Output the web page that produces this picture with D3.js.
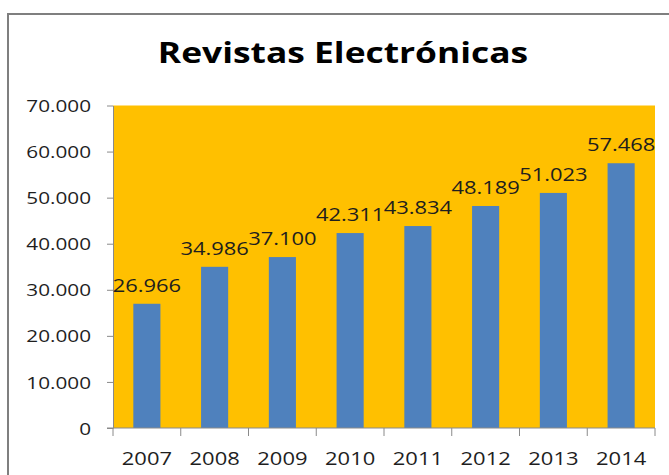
<!DOCTYPE html>
<html>
<head>
<meta charset="utf-8">
<script src="https://cdn.jsdelivr.net/npm/d3@7"></script>
<style>
  html, body { margin: 0; padding: 0; background: #ffffff; }
  svg { display: block; }
  text { font-family: "Open Sans", "Noto Sans", sans-serif; }
</style>
</head>
<body>
<svg id="chart" width="669" height="475"></svg>
<script>
// ---- data ----
const chartTitle = "Revistas Electrónicas";
const years = ["2007", "2008", "2009", "2010", "2011", "2012", "2013", "2014"];
const revistas = [26966, 34986, 37100, 42311, 43834, 48189, 51023, 57468];
const yTicks = [0, 10000, 20000, 30000, 40000, 50000, 60000, 70000];

// ---- layout ----
const W = 669, H = 475;
const plot = { left: 113, right: 655, top: 105.5, bottom: 428 };
const stretch = 1.22;           // horizontal stretch of the glyphs in the reference
const axisColor = "#8a8a8a";
const textColor = "#1e1e1e";

const loc = d3.formatLocale({ decimal: ",", thousands: ".", grouping: [3], currency: ["", ""] });
const fmt = loc.format(",");

const svg = d3.select("#chart");

// outer frame
svg.append("rect")
  .attr("x", 8).attr("y", 14)
  .attr("width", W + 20).attr("height", H + 20)
  .attr("fill", "#ffffff")
  .attr("stroke", "#7f7f7f").attr("stroke-width", 2);

const x = d3.scaleBand()
  .domain(years)
  .range([plot.left, plot.right])
  .paddingInner(0.6)
  .paddingOuter(0.3);

const y = d3.scaleLinear()
  .domain([0, 70000])
  .range([plot.bottom, plot.top]);

// plot area background
svg.append("rect")
  .attr("x", plot.left).attr("y", y(70000))
  .attr("width", plot.right - plot.left)
  .attr("height", y(0) - y(70000))
  .attr("fill", "#FFC000");

const rows = years.map((yr, i) => ({ yr, v: revistas[i] }));

// bars
svg.append("g").selectAll("rect")
  .data(rows)
  .join("rect")
  .attr("x", d => x(d.yr))
  .attr("y", d => y(d.v))
  .attr("width", x.bandwidth())
  .attr("height", d => y(0) - y(d.v))
  .attr("fill", "#4F81BD");

// y axis
const yAxis = svg.append("g")
  .attr("transform", `translate(${plot.left},0)`)
  .call(d3.axisLeft(y).tickValues(yTicks).tickFormat(fmt).tickSize(6).tickSizeOuter(0));
yAxis.select(".domain").attr("stroke", axisColor);
yAxis.selectAll(".tick line").attr("stroke", axisColor);
yAxis.selectAll(".tick text")
  .attr("x", -22 / stretch)
  .attr("dy", "0.36em")
  .attr("transform", `scale(${stretch},1)`)
  .attr("fill", textColor)
  .style("font-size", "17px");

// x axis line + boundary ticks
const xg = svg.append("g");
xg.append("line")
  .attr("x1", plot.left - 6).attr("x2", plot.right)
  .attr("y1", y(0)).attr("y2", y(0))
  .attr("stroke", axisColor);
xg.selectAll("line.b")
  .data(d3.range(years.length + 1))
  .join("line")
  .attr("class", "b")
  .attr("x1", i => plot.left + i * x.step())
  .attr("x2", i => plot.left + i * x.step())
  .attr("y1", y(0)).attr("y2", y(0) + 8)
  .attr("stroke", axisColor);
xg.selectAll("text")
  .data(years)
  .join("text")
  .attr("transform", d => `translate(${x(d) + x.bandwidth() / 2},${y(0) + 37}) scale(${stretch},1)`)
  .attr("text-anchor", "middle")
  .attr("fill", textColor)
  .style("font-size", "18px")
  .text(d => d);

// data labels
svg.append("g").selectAll("text")
  .data(rows)
  .join("text")
  .attr("transform", d => `translate(${x(d.yr) + x.bandwidth() / 2},${y(d.v) - 12}) scale(${stretch},1)`)
  .attr("text-anchor", "middle")
  .attr("fill", textColor)
  .style("font-size", "18px")
  .text(d => fmt(d.v));

// title
svg.append("text")
  .attr("transform", `translate(343,63) scale(1.22,1)`)
  .attr("text-anchor", "middle")
  .attr("fill", "#000000")
  .style("font-size", "29px")
  .style("font-weight", "bold")
  .text(chartTitle);
</script>
</body>
</html>
